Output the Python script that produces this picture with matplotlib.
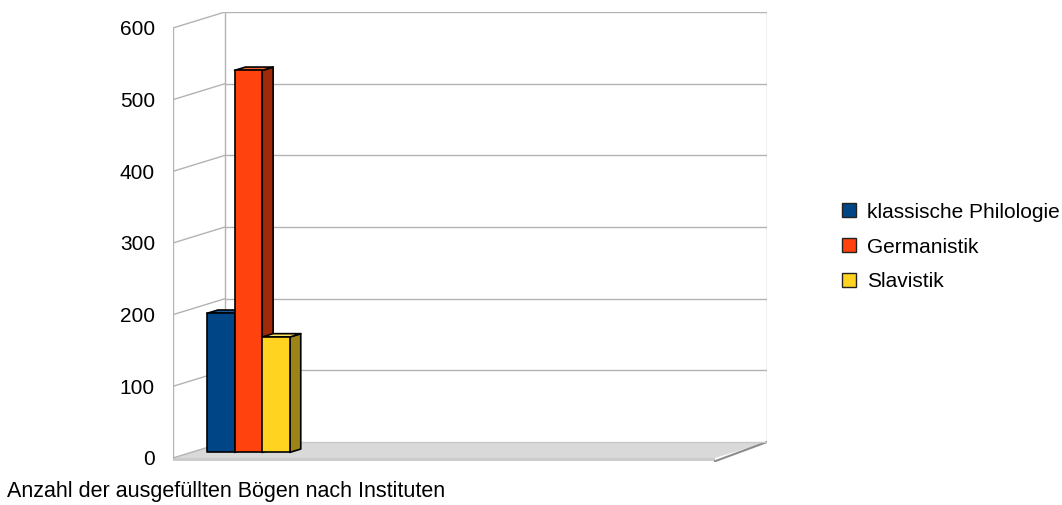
import numpy as np
import matplotlib.pyplot as plt
from matplotlib.patches import Polygon, Patch

plt.rcParams['font.family'] = ['Liberation Sans', 'DejaVu Sans']

# Anzahl der ausgefüllten Bögen je Institut
institute = ['klassische Philologie', 'Germanistik', 'Slavistik']
boegen = [194, 533, 161]
farben = ['#004586', '#ff420e', '#ffd320']
seiten = ['#00284f', '#a02a08', '#9c8416']
oben = ['#1a5a9a', '#ff6a3a', '#ffe060']
y_ticks = [0, 100, 200, 300, 400, 500, 600]

# Schräge Projektion: Tiefe z (0 = vorne, 1 = Rückwand)
DX = 52 / 542      # horizontale Verschiebung pro Tiefeneinheit
DY = 22.3          # vertikale Verschiebung in Werteinheiten
YMAX = 600


def proj(x, y, z):
    return (x + z * DX, y + z * DY)


fig = plt.figure(figsize=(10.62, 5.05), dpi=100)
ax = fig.add_axes([173 / 1062, 1 - 462 / 505, (767 - 173) / 1062, (462 - 12) / 505])
ax.set_xlim(0, 1 + DX)
ax.set_ylim(-5.6, YMAX + DY)

grid = '#b3b3b3'

# Boden mit dünner Platte
platte = [proj(0, -4.5, 0), proj(1, -4.5, 0), proj(1, 0, 0), proj(0, 0, 0)]
ax.add_patch(Polygon(platte, closed=True, facecolor='#cccccc', edgecolor='none', zorder=1))
boden = [proj(0, 0, 0), proj(1, 0, 0), proj(1, 0, 1), proj(0, 0, 1)]
ax.add_patch(Polygon(boden, closed=True, facecolor='#d9d9d9', edgecolor='none', zorder=1))
ax.plot(*zip(proj(1, -4.5, 0), proj(1, 0, 1)), color='#8c8c8c', lw=1.5, zorder=2)
ax.plot(*zip(proj(0, 0, 1), proj(1, 0, 1)), color='#c8c8c8', lw=1, zorder=2)

# Gitterlinien an Rück- und Seitenwand
for v in y_ticks[1:]:
    ax.plot(*zip(proj(0, v, 1), proj(1, v, 1)), color=grid, lw=1, zorder=1)
    ax.plot(*zip(proj(0, v, 0), proj(0, v, 1)), color=grid, lw=1, zorder=1)
ax.plot(*zip(proj(0, 0, 0), proj(0, YMAX, 0)), color=grid, lw=1, zorder=1)
ax.plot(*zip(proj(0, 0, 1), proj(0, YMAX, 1)), color=grid, lw=1, zorder=1)
ax.plot(*zip(proj(1, 0, 1), proj(1, YMAX, 1)), color=grid, lw=1, zorder=1)
ax.plot(*zip(proj(0, 0, 0), proj(0, 0, 1)), color=grid, lw=1, zorder=1)

# Säulen
x0 = 0.029
breite = 0.051
z0, z1 = 0.35, 0.56
for i, (wert, f, s, o) in enumerate(zip(boegen, farben, seiten, oben)):
    xl = x0 + i * breite
    xr = xl + breite
    seite = [proj(xr, 0, z0), proj(xr, 0, z1), proj(xr, wert, z1), proj(xr, wert, z0)]
    deckel = [proj(xl, wert, z0), proj(xr, wert, z0), proj(xr, wert, z1), proj(xl, wert, z1)]
    front = [proj(xl, 0, z0), proj(xr, 0, z0), proj(xr, wert, z0), proj(xl, wert, z0)]
    for poly, c in ((seite, s), (deckel, o), (front, f)):
        ax.add_patch(Polygon(poly, closed=True, facecolor=c, edgecolor='black',
                             lw=1.2, joinstyle='round', zorder=3 + i))

ax.set_yticks(y_ticks)
ax.set_yticklabels([str(v) for v in y_ticks], fontsize=15)
ax.tick_params(axis='y', length=0, pad=13)
ax.set_xticks([])
for sp in ax.spines.values():
    sp.set_visible(False)
ax.patch.set_visible(False)

handles = [Patch(facecolor=f, edgecolor='#222222', lw=1) for f in farben]
fig.legend(handles, institute, loc='center left', bbox_to_anchor=(842 / 1062, 1 - 247 / 505),
           frameon=False, fontsize=15, handlelength=0.66, handleheight=0.66,
           handletextpad=0.52, labelspacing=0.76, borderpad=0, borderaxespad=0)

fig.text(7 / 1062, 1 - 492 / 505, 'Anzahl der ausgefüllten Bögen nach Instituten',
         fontsize=15.5, va='center', ha='left')

fig.savefig('out.png', dpi=100)
